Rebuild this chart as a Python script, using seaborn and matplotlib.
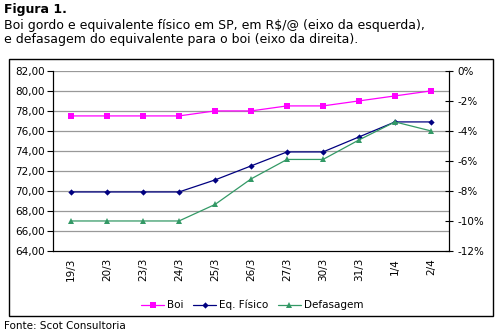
import matplotlib
matplotlib.use("Agg")
import matplotlib.pyplot as plt
import seaborn as sns
import pandas as pd
import numpy as np
from matplotlib.patches import Rectangle
from matplotlib.lines import Line2D

categories = ["19/3", "20/3", "23/3", "24/3", "25/3", "26/3", "27/3", "30/3", "31/3", "1/4", "2/4"]
boi = [77.5, 77.5, 77.5, 77.5, 78.0, 78.0, 78.5, 78.5, 79.0, 79.5, 80.0]
eq_fisico = [69.9, 69.9, 69.9, 69.9, 71.1, 72.5, 73.9, 73.9, 75.4, 76.9, 76.9]
defasagem = [-10.0, -10.0, -10.0, -10.0, -8.9, -7.2, -5.9, -5.9, -4.6, -3.4, -4.0]
left_ticks = [64, 66, 68, 70, 72, 74, 76, 78, 80, 82]
right_ticks = [-12, -10, -8, -6, -4, -2, 0]

sns.set_theme(style="white")
plt.rcParams['font.family'] = ['DejaVu Sans']
plt.rcParams['text.color'] = 'black'
plt.rcParams['xtick.color'] = 'black'
plt.rcParams['ytick.color'] = 'black'
plt.rcParams['axes.labelcolor'] = 'black'

pos = np.arange(len(categories))
df = pd.DataFrame({"pos": pos, "Boi": boi, "Eq": eq_fisico, "Def": defasagem})

c_boi = "#FF00FF"
c_eq = "#000080"
c_def = "#339966"

fig = plt.figure(figsize=(5.0, 3.36), dpi=100)
ax = fig.add_axes([0.106, 0.253, 0.792, 0.536])
ax2 = ax.twinx()

sns.lineplot(data=df, x="pos", y="Boi", ax=ax, color=c_boi, marker="s", markersize=3.8,
             markeredgewidth=0, linewidth=0.9)
sns.lineplot(data=df, x="pos", y="Eq", ax=ax, color=c_eq, marker="D", markersize=3.2,
             markeredgewidth=0, linewidth=0.9)
sns.lineplot(data=df, x="pos", y="Def", ax=ax2, color=c_def, marker="^", markersize=4.3,
             markeredgewidth=0, linewidth=0.9)

ax.set_xlim(-0.5, len(categories) - 0.5)
ax.set_ylim(64, 82)
ax2.set_ylim(-12, 0)

ax.set_yticks(left_ticks)
ax.set_yticklabels([f"{v:.2f}".replace(".", ",") for v in left_ticks], fontsize=7.5)
ax2.set_yticks(right_ticks)
ax2.set_yticklabels([f"{v}%" for v in right_ticks], fontsize=7.5)

ax.set_xticks(pos)
ax.set_xticklabels(categories, rotation=90, fontsize=7.5)
ax.set_xticks(np.arange(-0.5, len(categories), 1.0), minor=True)
ax.tick_params(axis="x", which="major", length=0, pad=5)
ax.tick_params(axis="x", which="minor", length=5, width=0.8, direction="inout", color="black")
ax.tick_params(axis="y", length=4, width=0.8, direction="out", color="black", pad=2, left=True)
ax2.tick_params(axis="y", length=6, width=0.8, direction="inout", color="black", pad=3, right=True)

for g in left_ticks[1:]:
    ax.axhline(g, color="#999999", linewidth=0.9, zorder=0)

for a in (ax, ax2):
    a.set_xlabel("")
    a.set_ylabel("")
    a.spines["top"].set_visible(False)
    for s in ("left", "right", "bottom"):
        a.spines[s].set_color("black")
        a.spines[s].set_linewidth(0.8)
ax.spines["right"].set_visible(True)

handles = [
    Line2D([0], [0], color=c_boi, marker="s", markersize=3.8, markeredgewidth=0, linewidth=0.9),
    Line2D([0], [0], color=c_eq, marker="D", markersize=3.2, markeredgewidth=0, linewidth=0.9),
    Line2D([0], [0], color=c_def, marker="^", markersize=4.3, markeredgewidth=0, linewidth=0.9),
]
fig.legend(handles, ["Boi", "Eq. Físico", "Defasagem"], loc="center",
           bbox_to_anchor=(0.505, 1 - 305 / 336), ncol=3, frameon=False, fontsize=7.5,
           handlelength=2.2, handletextpad=0.3, columnspacing=0.9, labelcolor="black")

fig.patches.append(Rectangle((9 / 500, 1 - 316 / 336), 484 / 500, 257 / 336,
                             transform=fig.transFigure, fill=False, edgecolor="black",
                             linewidth=1.0))

fig.text(4 / 500, 1 - 10 / 336, "Figura 1.", fontsize=9, fontweight="bold", va="center")
fig.text(4 / 500, 1 - 25 / 336, "Boi gordo e equivalente físico em SP, em R$/@ (eixo da esquerda),",
         fontsize=9, va="center")
fig.text(4 / 500, 1 - 40 / 336, "e defasagem do equivalente para o boi (eixo da direita).",
         fontsize=9, va="center")
fig.text(4 / 500, 1 - 326 / 336, "Fonte: Scot Consultoria", fontsize=7.5, va="center")

fig.savefig("out.png", dpi=100)
